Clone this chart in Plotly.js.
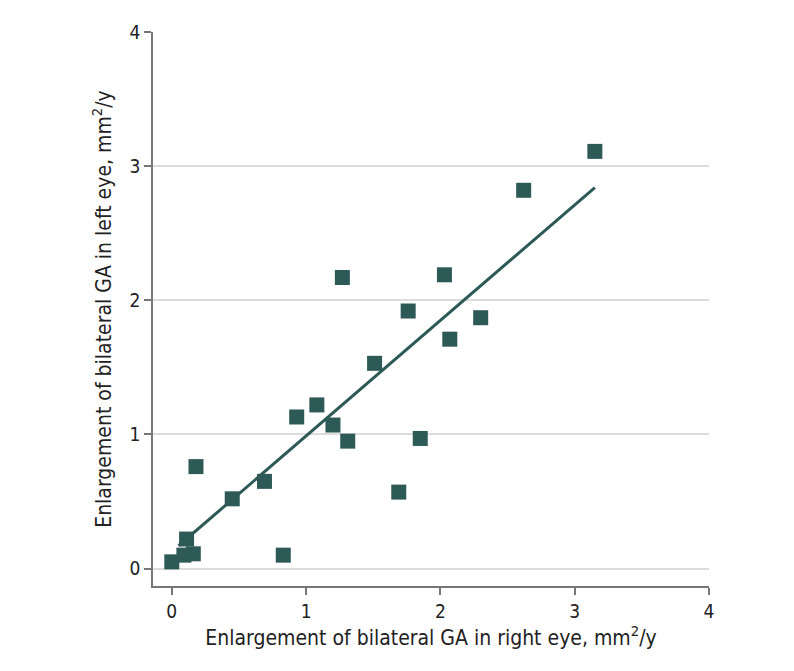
<!DOCTYPE html>
<html>
<head>
<meta charset="utf-8">
<script src="https://cdn.plot.ly/plotly-3.0.1.min.js"></script>
<style>
  html, body { margin: 0; padding: 0; background: #fff; }
  #chart { width: 794px; height: 671px; }
</style>
</head>
<body>
<div id="chart"></div>
<script>
// GA enlargement, right eye (x) vs left eye (y), mm2/y
let rightEye = [0.00, 0.09, 0.11, 0.16, 0.18, 0.45, 0.69, 0.83, 0.93, 1.08, 1.20, 1.27, 1.31, 1.51, 1.69, 1.76, 1.85, 2.03, 2.07, 2.30, 2.62, 3.15];
let leftEye  = [0.05, 0.10, 0.22, 0.11, 0.76, 0.52, 0.65, 0.10, 1.13, 1.22, 1.07, 2.17, 0.95, 1.53, 0.57, 1.92, 0.97, 2.19, 1.71, 1.87, 2.82, 3.11];

// fitted line end points
let fitX = [0.05, 3.15];
let fitY = [0.17, 2.84];

let tickVals = [0, 1, 2, 3, 4];

let teal = '#2d5956';
let font = '"Liberation Sans Narrow", "DejaVu Sans Condensed", Roboto, sans-serif';

let traces = [
    {
        type: 'scatter',
        mode: 'lines',
        x: fitX,
        y: fitY,
        line: {color: teal, width: 3},
        hoverinfo: 'skip'
    },
    {
        type: 'scatter',
        mode: 'markers',
        x: rightEye,
        y: leftEye,
        marker: {symbol: 'square', size: 15, color: teal}
    }
];

let layout = {
    width: 794,
    height: 671,
    margin: {l: 153, r: 85, t: 32, b: 85},
    paper_bgcolor: '#fff',
    plot_bgcolor: '#fff',
    showlegend: false,
    font: {family: font, size: 19, color: '#222'},
    xaxis: {
        range: [-0.14, 4],
        tickvals: tickVals,
        ticks: 'outside',
        ticklen: 7,
        tickwidth: 1.5,
        tickcolor: '#777',
        showline: true,
        linecolor: '#777',
        linewidth: 1.5,
        showgrid: false,
        zeroline: false,
        tickfont: {size: 19},
        title: {text: 'Enlargement of bilateral GA in right eye, mm<sup>2</sup>/y', font: {size: 21}, standoff: 10}
    },
    yaxis: {
        range: [-0.13, 4],
        tickvals: tickVals,
        ticks: 'outside',
        ticklen: 7,
        tickwidth: 1.5,
        tickcolor: '#777',
        showline: true,
        linecolor: '#777',
        linewidth: 1.5,
        showgrid: true,
        gridcolor: '#dcdcdc',
        gridwidth: 1.5,
        zeroline: false,
        tickfont: {size: 19},
        title: {text: 'Enlargement of bilateral GA in left eye, mm<sup>2</sup>/y', font: {size: 21}, standoff: 12}
    }
};

Plotly.newPlot('chart', traces, layout, {displayModeBar: false});
</script>
</body>
</html>
